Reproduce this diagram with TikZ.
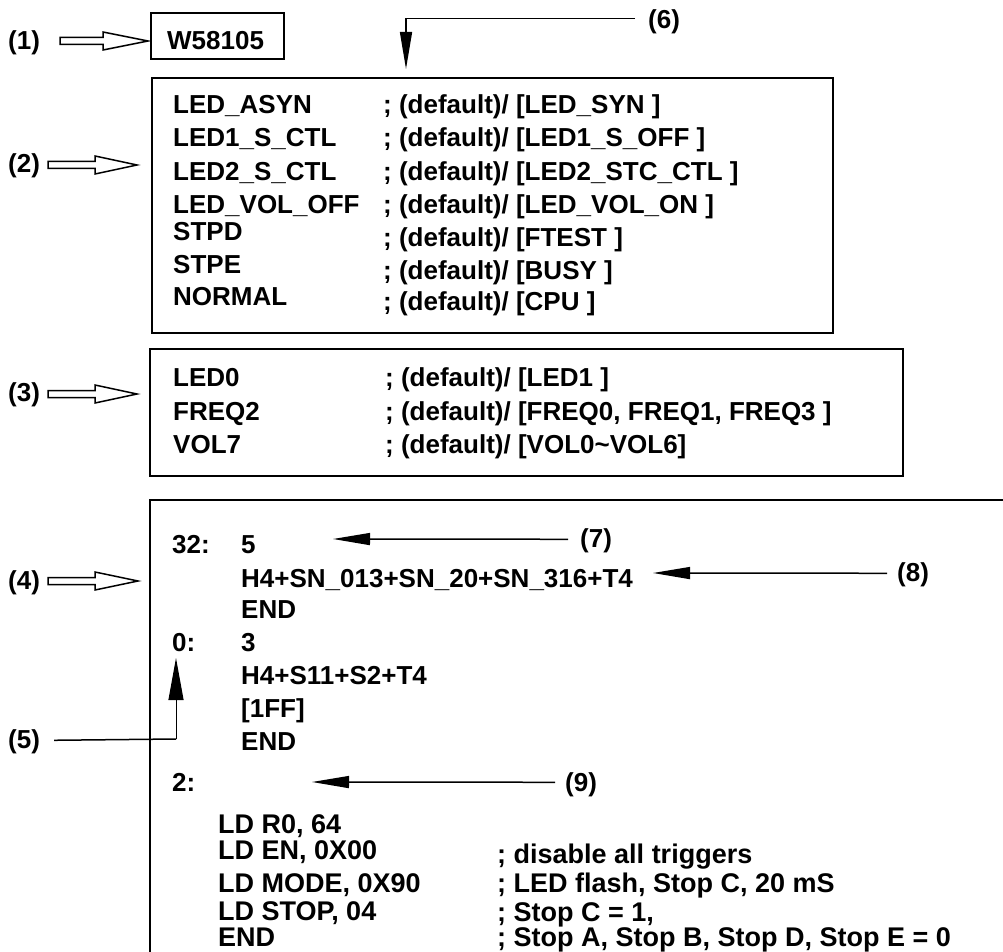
\documentclass[tikz,border=0pt]{standalone}
\usepackage{fontspec}
\setmainfont{Liberation Sans}
\usetikzlibrary{arrows.meta}
\begin{document}
\begin{tikzpicture}[x=1pt,y=-1pt,
  txt/.style={anchor=base west, inner sep=0pt, font=\fontsize{26}{26}\selectfont\bfseries},
  ntxt/.style={anchor=base west, inner sep=0pt, font=\fontsize{27}{27}\selectfont\bfseries},
  boxline/.style={line width=2pt},
  pointer/.style={line width=1.5pt, -{Triangle[length=37pt,width=12pt]}},
  hollow/.style={line width=1.5pt, fill=white, line join=miter}]
\useasboundingbox (0,0) rectangle (1003,952);
\fill[white] (0,0) rectangle (1003,952);

% (1)
\node[txt] (l1) at (8,50) {(1)};
\draw[hollow] (60,37.5) -- (103,37.5) -- (103,32) -- (148,41) -- (103,50) -- (103,44.5) -- (60,44.5) -- cycle;
\node[draw, boxline, minimum width=133pt, minimum height=46pt, inner sep=0pt] (wbox) at (217.5,36) {};
\node[txt] (w) at (167,50) {W58105};

% (6)
\node[txt] (l6) at (648,29) {(6)};
\coordinate (t6) at (406,69);
\draw[pointer] ([xshift=-13pt,yshift=4pt]l6.west) -| (t6);

% (2)
\node[txt] (l2) at (8,173) {(2)};
\draw[hollow] (48,161.5) -- (95,161.5) -- (95,156) -- (137,165) -- (95,174) -- (95,168.5) -- (48,168.5) -- cycle;
\node[draw, boxline, minimum width=681pt, minimum height=255pt, inner sep=0pt] (box2) at (492.5,205.5) {};
\node[txt] (a1) at (173,114) {LED\_ASYN};
\node[txt] (a2) at (173,147) {LED1\_S\_CTL};
\node[txt] (a3) at (173,181) {LED2\_S\_CTL};
\node[txt] (a4) at (173,213) {LED\_VOL\_OFF};
\node[txt] (a5) at (173,240) {STPD};
\node[txt] (a6) at (173,273) {STPE};
\node[txt] (a7) at (173,305) {NORMAL};
\node[txt] (b1) at (383,114) {; (default)/ [LED\_SYN ]};
\node[txt] (b2) at (383,147) {; (default)/ [LED1\_S\_OFF ]};
\node[txt] (b3) at (383,181) {; (default)/ [LED2\_STC\_CTL ]};
\node[txt] (b4) at (383,213) {; (default)/ [LED\_VOL\_ON ]};
\node[txt] (b5) at (383,246) {; (default)/ [FTEST ]};
\node[txt] (b6) at (383,279) {; (default)/ [BUSY ]};
\node[txt] (b7) at (383,310) {; (default)/ [CPU ]};

% (3)
\node[txt] (l3) at (8,401) {(3)};
\draw[hollow] (48,390.5) -- (95,390.5) -- (95,385) -- (137,394) -- (95,403) -- (95,397.5) -- (48,397.5) -- cycle;
\node[draw, boxline, minimum width=753pt, minimum height=127pt, inner sep=0pt] (box3) at (526.5,412.5) {};
\node[txt] (c1) at (173,386) {LED0};
\node[txt] (c2) at (173,420) {FREQ2};
\node[txt] (c3) at (173,453) {VOL7};
\node[txt] (d1) at (385,386) {; (default)/ [LED1 ]};
\node[txt] (d2) at (385,420) {; (default)/ [FREQ0, FREQ1, FREQ3 ]};
\node[txt] (d3) at (385,453) {; (default)/ [VOL0\textasciitilde VOL6]};

% (4)
\node[txt] (l4) at (8,589) {(4)};
\draw[hollow] (48,577.5) -- (95,577.5) -- (95,572) -- (138,581) -- (95,590) -- (95,584.5) -- (48,584.5) -- cycle;
\coordinate (b4tr) at (1003,500);
\coordinate (b4bl) at (150,952);
\draw[boxline] (b4tr) -- (150,500) -- (b4bl);

\node[txt] (e1) at (172,553) {32:};
\node[txt] (f1) at (241,553) {5};
\node[txt] (f2) at (241,587) {H4+SN\_013+SN\_20+SN\_316+T4};
\node[txt] (f3) at (241,618) {END};
\node[txt] (e2) at (172,651) {0:};
\node[txt] (g1) at (241,651) {3};
\node[txt] (g2) at (241,684) {H4+S11+S2+T4};
\node[txt] (g3) at (241,717) {[1FF]};
\node[txt] (g4) at (241,750) {END};

% (7)
\node[txt] (l7) at (580,547) {(7)};
\coordinate (t7) at (333,539);
\draw[pointer] ([xshift=-12pt,yshift=1pt]l7.west) -- (t7);
% (8)
\node[txt] (l8) at (897,581) {(8)};
\coordinate (t8) at (653,573);
\draw[pointer] ([xshift=-10pt,yshift=1pt]l8.west) -- (t8);
% (5)
\node[txt] (l5) at (8,748) {(5)};
\coordinate (t5) at (176,658);
\draw[line width=1.5pt] ([xshift=14pt,yshift=1pt]l5.east) -- (176,739);
\draw[line width=1pt, -{Triangle[length=42pt,width=15pt]}] (176,739) -- (t5);

% bottom section
\node[txt] (e3) at (172,791) {2:};
\node[txt] (l9) at (565,791) {(9)};
\coordinate (t9) at (312,782);
\draw[pointer] ([xshift=-10pt,yshift=2pt]l9.west) -- (t9);
\node[ntxt] (h1) at (218,833) {LD R0, 64};
\node[ntxt] (h2) at (218,859) {LD EN, 0X00};
\node[ntxt] (h3) at (218,892) {LD MODE, 0X90};
\node[ntxt] (h4) at (218,920) {LD STOP, 04};
\node[ntxt] (h5) at (218,946) {END};
\node[ntxt] (k1) at (497,863) {; disable all triggers};
\node[ntxt] (k2) at (497,892) {; LED flash, Stop C, 20 mS};
\node[ntxt] (k3) at (497,921) {; Stop C = 1,};
\node[ntxt] (k4) at (497,946) {; Stop A, Stop B, Stop D, Stop E = 0};
\end{tikzpicture}
\end{document}
